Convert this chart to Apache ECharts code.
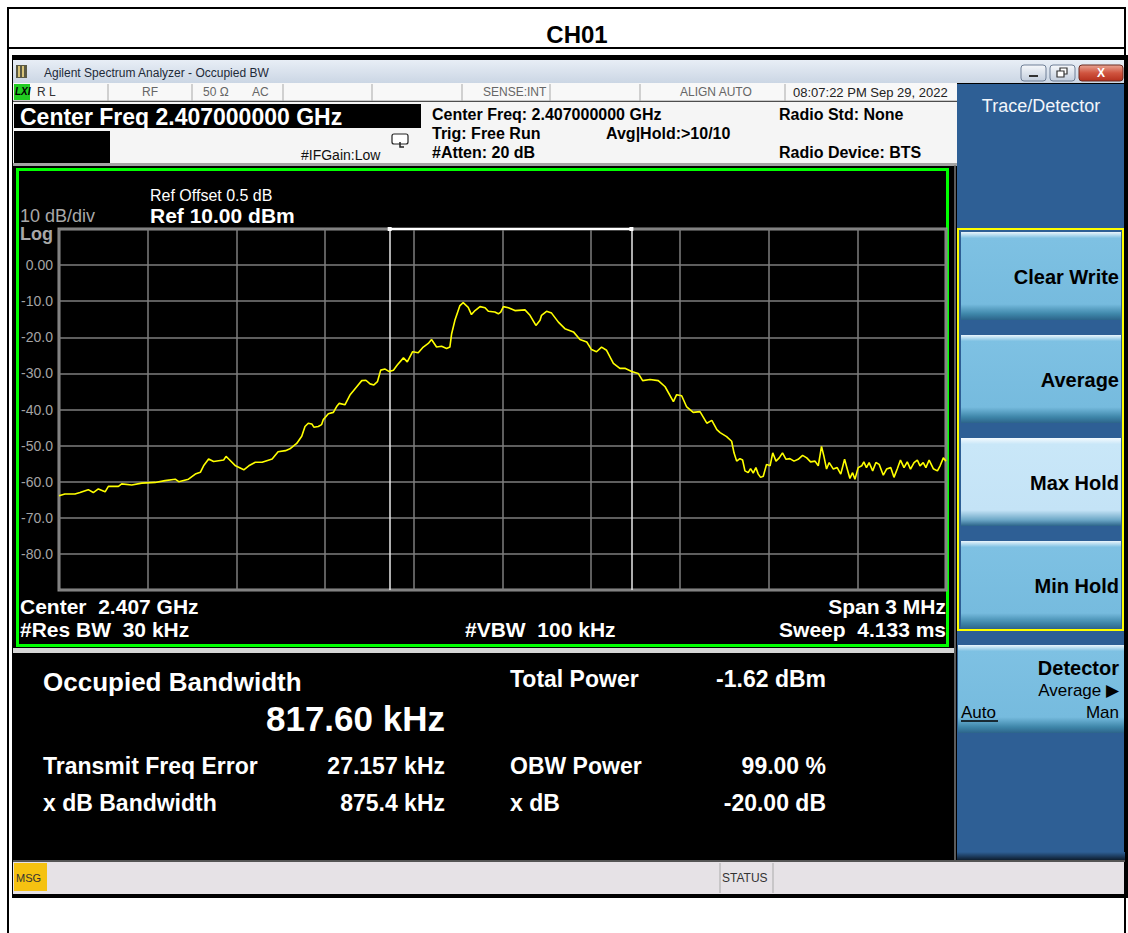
<!DOCTYPE html>
<html><head><meta charset="utf-8">
<script src="https://cdn.jsdelivr.net/npm/echarts@6/dist/echarts.min.js"></script>
<style>html,body{margin:0;padding:0;background:#fff;overflow:hidden}#c{width:1128px;height:933px}</style>
</head><body><div id="c"></div>
<script>
// ---- data (frequency offset from center 2.407 GHz, kHz ; level dBm) ----
const freqOffsetKHz = [
 -1500,-1480,-1446,-1429,-1401,-1384,-1367,-1344,-1333,-1299,-1288,-1254,-1220,-1175,-1141,-1107,-1095,-1062,-1039,-1022,
 -1011,-994,-977,-943,-935,-926,-903,-875,-858,-836,-813,-779,-759,-734,
 -719,-696,-679,-668,-657,-645,-638,-623,-612,-606,-589,-572,-561,-552,-533,-516,-493,-476,-462,-448,-435,-423,-412,-397,
 -383,-369,-356,-335,-322,-304,-285,-268,-251,-240,-223,-206,-189,-178,-172,-161,-144,-133,-116,-105,-93,-76,-59,-48,-26,-14,-6,
 3,20,42,76,93,113,127,132,149,166,189,211,240,262,285,301,318,335,352,375,397,414,437,459,474,499,527,550,578,589,606,623,645,
 668,691,708,725,
 736,758,775,783,792,803,812,820,831,839,848,857,865,873,882,893,905,914,925,936,947,959,972,986,1000,1015,1029,1042,1057,1068,
 1079,1087,1096,1105,1119,1132,1144,1157,1166,1175,1184,1192,1203,1215,1222,1231,1240,1252,1263,1274,1288,1299,1313,1324,1335,
 1346,1358,1369,1380,1392,1403,1412,1423,1432,1443,1457,1471,1480,1491,1500
];
const traceDbm = [
 -63.9,-63.4,-63.4,-63.0,-62.2,-63.0,-62.0,-62.8,-61.3,-61.3,-60.6,-60.9,-60.4,-60.2,-59.7,-59.3,-60.0,-59.3,-57.9,-57.4,
 -55.6,-53.7,-54.4,-54.0,-53.0,-53.7,-55.6,-56.7,-55.6,-54.6,-54.6,-53.7,-51.7,-51.4,
 -50.9,-49.4,-47.4,-44.7,-43.8,-44.0,-44.9,-44.7,-44.2,-42.8,-41.2,-40.8,-39.2,-38.3,-38.7,-36.0,-33.7,-32.0,-31.9,-32.9,-33.2,-32.3,-29.1,-28.8,
 -29.5,-29.1,-27.7,-25.7,-26.8,-24.0,-24.3,-22.7,-21.7,-20.6,-22.7,-22.5,-23.1,-22.7,-19.0,-15.3,-11.2,-10.4,-11.7,-13.7,-12.6,-11.5,-11.8,-12.8,-13.0,-13.5,-13.0,
 -11.5,-11.8,-12.6,-12.4,-13.9,-16.7,-15.3,-13.9,-12.8,-13.3,-15.8,-17.6,-18.5,-20.6,-21.3,-23.4,-24.0,-22.7,-23.6,-27.2,-28.6,-28.6,-29.5,-30.0,-32.0,-31.7,-32.0,-33.7,-37.8,-35.9,-36.2,-39.3,-40.8,
 -40.6,-43.8,-43.0,-45.6,
 -46.4,-47.5,-48.8,-52.0,-54.3,-53.6,-54.0,-57.0,-57.5,-56.4,-57.6,-56.1,-57.9,-58.8,-58.5,-55.2,-55.6,-52.0,-54.3,-53.4,-52.0,-53.8,-53.6,-54.3,-53.8,-52.7,-53.4,-54.5,-54.3,-55.6,
 -50.2,-52.9,-56.5,-54.7,-56.5,-56.1,-57.9,-53.8,-56.5,-59.1,-57.5,-59.3,-56.1,-55.6,-54.5,-56.1,-54.7,-57.0,-54.7,-55.2,-58.2,-56.5,-56.1,-58.8,-56.5,
 -54.0,-56.1,-54.5,-56.5,-54.7,-54.0,-55.6,-54.7,-56.1,-54.0,-56.4,-57.0,-55.6,-53.4,-54.3
];
const obwEdgesKHz = [-381.6, 435.96];
const yTickValues = [10, 0, -10, -20, -30, -40, -50, -60, -70, -80, -90];
const yTickLabels = ['', '0.00', '-10.0', '-20.0', '-30.0', '-40.0', '-50.0', '-60.0', '-70.0', '-80.0', ''];

// ---- drawing helpers ----
const FF = "'Liberation Sans', Arial, sans-serif";
const G = [];
function rect(x, y, w, h, fill, extra) {
  G.push(Object.assign({type:'rect', silent:true, z:-10, shape:{x:x, y:y, width:w, height:h}, style:{fill:fill}}, extra || {}));
}
function box(x, y, w, h, stroke, lw, fill, r) {
  G.push({type:'rect', silent:true, z:-9, shape:{x:x, y:y, width:w, height:h, r:r||0}, style:{fill:fill||'none', stroke:stroke, lineWidth:lw}});
}
function line(x1, y1, x2, y2, color, lw, z) {
  G.push({type:'line', silent:true, z:(z===undefined?-8:z), shape:{x1:x1, y1:y1, x2:x2, y2:y2}, style:{stroke:color, lineWidth:lw}});
}
function txt(x, y, t, size, color, opt) {
  opt = opt || {};
  G.push({type:'text', silent:true, z:20, x:x, y:y, style:{text:t, fontSize:size, fontFamily:FF,
    fontWeight:opt.bold ? 'bold' : 'normal', fontStyle:opt.italic ? 'italic' : 'normal',
    fill:color, align:opt.align || 'left', verticalAlign:'middle'}});
}
function vgrad(stops) {
  return {type:'linear', x:0, y:0, x2:0, y2:1, colorStops:stops.map(s => ({offset:s[0], color:s[1]}))};
}

// page + outer border
rect(0, 0, 1128, 933, '#ffffff', {z:-20});
box(8, 8, 1117, 940, '#000', 2);
line(8, 48, 1125, 48, '#000', 2);
txt(577, 34, 'CH01', 24, '#000', {bold:true, align:'center'});

// screenshot frame
rect(12, 55, 1116, 843, '#000000', {z:-15});

// window title bar
rect(13, 60, 1112, 23, vgrad([[0,'#e8eef6'],[1,'#cbd6e4']]));
rect(16, 65, 11, 13, '#5b5a44');
rect(18, 66, 2, 11, '#d8c47a'); rect(22, 66, 2, 11, '#d8c47a');
txt(44, 73, 'Agilent Spectrum Analyzer - Occupied BW', 12, '#1e2a38');
G.push({type:'rect', silent:true, z:-9, shape:{x:1021, y:65, width:25, height:16, r:3}, style:{fill:vgrad([[0,'#f6f8fb'],[1,'#c3cedd']]), stroke:'#6f7f96', lineWidth:1}});
rect(1029, 75, 9, 2, '#333', {z:-8});
G.push({type:'rect', silent:true, z:-9, shape:{x:1050, y:65, width:25, height:16, r:3}, style:{fill:vgrad([[0,'#f6f8fb'],[1,'#c3cedd']]), stroke:'#6f7f96', lineWidth:1}});
box(1060, 68, 7, 6, '#333', 1.2, '#fff'); box(1057, 71, 7, 6, '#333', 1.2, '#fff');
G.push({type:'rect', silent:true, z:-9, shape:{x:1079, y:65, width:44, height:16, r:3}, style:{fill:vgrad([[0,'#e9a594'],[0.5,'#d0543f'],[1,'#b5301e']]), stroke:'#6b2a20', lineWidth:1}});
txt(1101, 73, 'X', 12, '#fff', {bold:true, align:'center'});

// instrument status row
rect(13, 83, 944, 18, '#f8f8f8');
line(13, 101, 957, 101, '#9a9a9a', 1);
[108, 192, 283, 372, 462, 550, 640, 785].forEach(x => line(x, 84, x, 101, '#a8a8a8', 1));
rect(14, 84, 16, 16, '#22cc22', {z:-8});
txt(15, 91, 'LXI', 10, '#000', {bold:true, italic:true});
txt(37, 92, 'R L', 12, '#333');
txt(142, 92, 'RF', 12, '#666');
txt(203, 92, '50 Ω', 12, '#666');
txt(252, 92, 'AC', 12, '#666');
txt(483, 92, 'SENSE:INT', 12, '#666');
txt(680, 92, 'ALIGN AUTO', 12, '#666');
txt(793, 92, '08:07:22 PM Sep 29, 2022', 13, '#222');

// header block
rect(13, 102, 944, 62, '#f5f5f5');
rect(14, 104, 407, 24, '#000', {z:-8});
rect(14, 131, 96, 32, '#000', {z:-8});
rect(13, 163, 944, 3, '#a4a4a4', {z:-8});
txt(20, 117, 'Center Freq 2.407000000 GHz', 23, '#fff', {bold:true});
txt(301, 155, '#IFGain:Low', 14, '#111');
G.push({type:'rect', silent:true, z:-8, shape:{x:392, y:134, width:16, height:10, r:2}, style:{fill:'#fff', stroke:'#222', lineWidth:1.2}});
G.push({type:'polyline', silent:true, z:-7, shape:{points:[[400,142],[400,147],[404,147]]}, style:{stroke:'#222', lineWidth:1.5, fill:'none'}});
txt(432, 114, 'Center Freq: 2.407000000 GHz', 16, '#000', {bold:true});
txt(432, 133, 'Trig: Free Run', 16, '#000', {bold:true});
txt(606, 133, 'Avg|Hold:>10/10', 16, '#000', {bold:true});
txt(432, 152, '#Atten: 20 dB', 16, '#000', {bold:true});
txt(779, 114, 'Radio Std: None', 16, '#000', {bold:true});
txt(779, 152, 'Radio Device: BTS', 16, '#000', {bold:true});

// right soft-key panel
rect(957, 84, 168, 776, '#2e5f95');
txt(1041, 106, 'Trace/Detector', 18, '#f2f6fb', {align:'center'});
const keyGrad = vgrad([[0,'#eaf5fc'],[0.07,'#7ec1e3'],[0.82,'#76bbde'],[0.93,'#3f87aa'],[1,'#2c648a']]);
const keyGradSel = vgrad([[0,'#f4fafe'],[0.07,'#c9e7f8'],[0.82,'#c4e3f6'],[0.93,'#6da8c7'],[1,'#2c648a']]);
[[232,'Clear Write',keyGrad],[335,'Average',keyGrad],[438,'Max Hold',keyGradSel],[541,'Min Hold',keyGrad]].forEach(k => {
  rect(961, k[0], 160, 88, k[2], {z:-8});
  txt(1119, k[0] + 45, k[1], 20, '#000', {bold:true, align:'right'});
});
box(958, 229, 165, 401, '#ffff00', 2);
rect(958, 645, 166, 88, keyGrad, {z:-8});
txt(1119, 668, 'Detector', 20, '#000', {bold:true, align:'right'});
txt(1119, 690, 'Average ▶', 17, '#000', {align:'right'});
txt(961, 712, 'Auto', 17, '#000');
line(961, 721, 998, 721, '#000', 1.5, -7);
txt(1119, 712, 'Man', 17, '#000', {align:'right'});
rect(957, 852, 168, 8, vgrad([[0,'#2e5f95'],[1,'#0e1e30']]), {z:-8});

// display frames
box(17.5, 169.5, 930, 476, '#00ff00', 3);
rect(13, 648, 941, 5, '#d6d6d6');
line(955, 165, 955, 860, '#7a7a7a', 1.5);

// plot annotations
txt(150, 195, 'Ref Offset 0.5 dB', 16, '#fff');
txt(150, 215, 'Ref 10.00 dBm', 21, '#fff', {bold:true});
txt(20, 216, '10 dB/div', 18, '#a8a8a8');
txt(20, 234, 'Log', 18, '#a8a8a8', {bold:true});
txt(20, 606, 'Center  2.407 GHz', 21, '#fff', {bold:true});
txt(20, 629, '#Res BW  30 kHz', 21, '#fff', {bold:true});
txt(465, 629, '#VBW  100 kHz', 21, '#fff', {bold:true});
txt(946, 606, 'Span 3 MHz', 21, '#fff', {bold:true, align:'right'});
txt(946, 629, 'Sweep  4.133 ms', 21, '#fff', {bold:true, align:'right'});

// result panel
txt(43, 682, 'Occupied Bandwidth', 26, '#fff', {bold:true});
txt(445, 718, '817.60 kHz', 35, '#fff', {bold:true, align:'right'});
txt(510, 679, 'Total Power', 23, '#fff', {bold:true});
txt(826, 679, '-1.62 dBm', 23, '#fff', {bold:true, align:'right'});
txt(43, 766, 'Transmit Freq Error', 23, '#fff', {bold:true});
txt(445, 766, '27.157 kHz', 23, '#fff', {bold:true, align:'right'});
txt(510, 766, 'OBW Power', 23, '#fff', {bold:true});
txt(826, 766, '99.00 %', 23, '#fff', {bold:true, align:'right'});
txt(43, 803, 'x dB Bandwidth', 23, '#fff', {bold:true});
txt(445, 803, '875.4 kHz', 23, '#fff', {bold:true, align:'right'});
txt(510, 803, 'x dB', 23, '#fff', {bold:true});
txt(826, 803, '-20.00 dB', 23, '#fff', {bold:true, align:'right'});

// bottom status bar
rect(13, 860, 1112, 34, '#e6e2e6');
line(13, 861, 1125, 861, '#555', 2);
rect(14, 863, 33, 28, '#f5c211', {z:-8});
txt(16, 878, 'MSG', 11, '#333');
line(720, 863, 720, 893, '#aaa', 1);
line(773, 863, 773, 893, '#aaa', 1);
txt(722, 878, 'STATUS', 12, '#333');

// ---- chart ----
const chart = echarts.init(document.getElementById('c'), null, {renderer:'svg', width:1128, height:933});
const gridColor = '#7e7e7e';
chart.setOption({
  animation: false,
  backgroundColor: 'transparent',
  graphic: {elements: G},
  grid: {left:59, top:229, width:887, height:361, show:true, borderColor:'#8e8e8e', borderWidth:3, backgroundColor:'transparent', containLabel:false},
  xAxis: {type:'value', min:-1500, max:1500, interval:300,
    axisLabel:{show:false}, axisTick:{show:false}, axisLine:{show:false},
    splitLine:{show:true, lineStyle:{color:gridColor, width:1.5}}},
  yAxis: {type:'value', min:-90, max:10, interval:10,
    axisTick:{show:false}, axisLine:{show:false},
    axisLabel:{color:'#a4a4a4', fontSize:14, fontFamily:FF, margin:6,
      formatter: v => { const i = yTickValues.indexOf(Math.round(v)); return i >= 0 ? yTickLabels[i] : ''; }},
    splitLine:{show:true, lineStyle:{color:gridColor, width:1.5}}},
  series: [
    {name:'Trace', type:'line', data: freqOffsetKHz.map((f, i) => [f, traceDbm[i]]),
      showSymbol:false, symbol:'none', z:5,
      lineStyle:{color:'#ffff00', width:1.6},
      markLine:{silent:true, symbol:['none','none'], label:{show:false},
        lineStyle:{color:'#e8e8e8', width:1.5, type:'solid'},
        data: obwEdgesKHz.map(v => ({xAxis:v}))}},
    {name:'OBW', type:'line', data: obwEdgesKHz.map(v => [v, 10]), z:6,
      symbol:'rect', symbolSize:4, itemStyle:{color:'#ffffff'},
      lineStyle:{color:'#ffffff', width:2}}
  ]
});
</script></body></html>
